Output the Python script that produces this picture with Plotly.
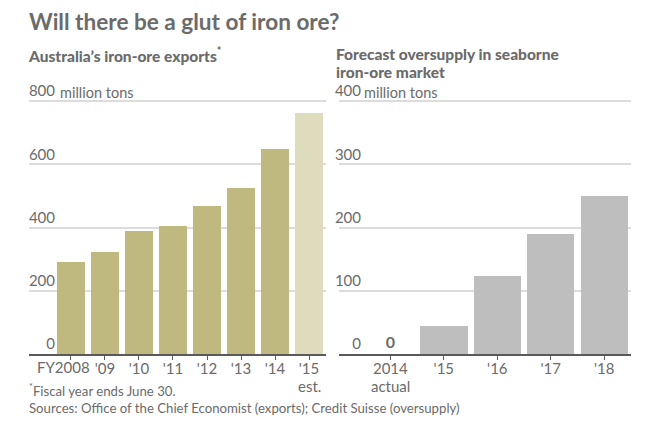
import plotly.graph_objects as go

W, H = 655, 422

# Australia's iron-ore exports, million tons
export_years = ["FY2008", "'09", "'10", "'11", "'12", "'13", "'14", "'15"]
export_labels = ["", "'09", "'10", "'11", "'12", "'13", "'14", "'15"]
export_values = [292, 323, 389, 406, 469, 526, 650, 762]
export_colors = ["#C0B97F"] * 7 + ["#DFDBBD"]
export_ticks = [0, 200, 400, 600, 800]

# Forecast oversupply in seaborne market, million tons
supply_years = ["2014", "'15", "'16", "'17", "'18"]
supply_values = [0, 45, 123, 190, 251]
supply_text = ["<b>0</b>", None, None, None, None]
supply_ticks = [0, 100, 200, 300, 400]

TEXT = "#6B6B6B"
GRID = "#DCDCDC"
AXIS = "#5A5A5A"
FONT = "Lato"


def px_x(p):
    return p / W


def px_y(p):
    return 1 - p / H


fig = go.Figure()

fig.add_trace(go.Bar(
    x=export_years, y=export_values, marker=dict(color=export_colors, line_width=0),
    width=0.815, xaxis="x", yaxis="y", hoverinfo="skip", showlegend=False,
))
fig.add_trace(go.Bar(
    x=supply_years, y=supply_values, marker=dict(color="#BEBEBE", line_width=0),
    width=0.886, xaxis="x2", yaxis="y2", hoverinfo="skip", showlegend=False,
    text=supply_text, textposition="outside", cliponaxis=False,
    textfont=dict(family=FONT, size=16, color=TEXT),
))

xstyle = dict(
    type="category", showgrid=False, showline=True, linecolor=AXIS, linewidth=1.5,
    ticks="outside", ticklen=4, tickcolor=AXIS, tickwidth=1, automargin=False,
    tickfont=dict(family=FONT, size=15, color=TEXT), tickangle=0, fixedrange=True,
    ticklabelstandoff=-4,
)
ystyle = dict(
    showgrid=True, gridcolor=GRID, gridwidth=1.5, zeroline=False, showline=False,
    ticks="", tickfont=dict(family=FONT, size=15, color=TEXT), fixedrange=True,
    anchor="free", ticklabelshift=-10, automargin=False,
)

# range runs slightly past the top tick so its gridline is still drawn
fig.update_layout(
    width=W, height=H, margin=dict(l=0, r=0, t=0, b=0),
    paper_bgcolor="white", plot_bgcolor="white", bargap=0,
    xaxis=dict(xstyle, domain=[px_x(29), px_x(326)], range=[-1.235, 7.5], anchor="y",
               tickvals=export_years, ticktext=export_labels),
    yaxis=dict(ystyle, domain=[px_y(354), px_y(99.74)], range=[0, 804],
               tickvals=export_ticks, position=px_x(55)),
    xaxis2=dict(xstyle, domain=[px_x(339), px_x(631)], range=[-0.96, 4.5], anchor="y2",
                tickvals=supply_years),
    yaxis2=dict(ystyle, domain=[px_y(354), px_y(99.74)], range=[0, 402],
                tickvals=supply_ticks, position=px_x(361)),
)


def note(text, x, y, size, weight=400, xanchor="left", xref="paper"):
    fig.add_annotation(
        text=text, x=px_x(x) if xref == "paper" else x, y=px_y(y), xref=xref, yref="paper",
        xanchor=xanchor, yanchor="middle", align="left", showarrow=False, borderpad=0,
        font=dict(family=FONT, size=size, color=TEXT, weight=weight),
    )


note("Will there be a glut of iron ore?", 28, 22, 22.6, 700)
note("Australia’s iron-ore exports<sup>*</sup>", 27, 55, 15.5, 900)
note("Forecast oversupply in seaborne", 335, 54, 15.5, 900)
note("iron-ore market", 335, 72, 15.5, 900)
note("million tons", 59, 92, 14.5)
note("million tons", 363, 92, 14.5)
note("FY2008", 91, 367, 15, xanchor="right")
note("est.", 7, 386, 15, xanchor="center", xref="x")
note("actual", 0, 386, 15, xanchor="center", xref="x2")
note("<sup>*</sup>Fiscal year ends June 30.", 28, 390, 13.2)
note("Sources: Office of the Chief Economist (exports); Credit Suisse (oversupply)", 28, 408, 13.2)

fig.write_html("out.html", config={"displayModeBar": False},
               post_script="document.body.style.margin = '0';")
